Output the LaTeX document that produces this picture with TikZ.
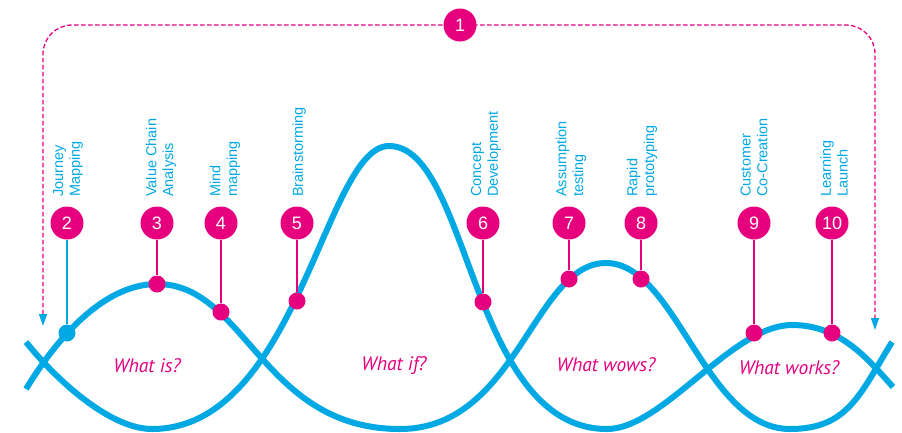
\documentclass[tikz,border=0pt]{standalone}
\usepackage{fontspec}
\setmainfont{Liberation Sans}
\newfontfamily\qfont{PT Sans}
\usetikzlibrary{arrows.meta}
\definecolor{cy}{RGB}{0,168,228}
\definecolor{mg}{RGB}{230,0,126}
\begin{document}
\begin{tikzpicture}[x=1pt,y=-1pt,
  wave/.style={cy, line width=6pt, line cap=butt, line join=round},
  num/.style={circle, fill=mg, minimum size=33pt, inner sep=0pt, text=white, font=\fontsize{18}{18}\selectfont},
  dotm/.style={circle, fill=mg, minimum size=17pt, inner sep=0pt},
  dotc/.style={circle, fill=cy, minimum size=17pt, inner sep=0pt},
  stemm/.style={mg, line width=1.3pt},
  stemc/.style={cy, line width=1.3pt},
  lab/.style={rotate=90, anchor=west, inner sep=0pt, align=left, text=cy, font=\fontsize{14.5}{16.7}\selectfont},
  qtext/.style={text=mg, font=\qfont\itshape\fontsize{19.5}{19.5}\selectfont},
  loopline/.style={mg, line width=1.3pt, dash pattern=on 4.5pt off 2.5pt}
]
\useasboundingbox (0,0) rectangle (902,432);

% curves
\draw[wave] (26,389) .. controls (69.5,318) and (115,284) .. (157,284)
 .. controls (246,284) and (262,429) .. (400,429)
 .. controls (517,429) and (534,263) .. (606,263)
 .. controls (676,263) and (705,429) .. (790,429)
 .. controls (848,429) and (860,394) .. (892,342);
\draw[wave] (26,342) .. controls (58,382) and (111,429) .. (152,429)
 .. controls (298,429) and (325,146) .. (389,146)
 .. controls (470,146) and (470,429) .. (607,429)
 .. controls (663,429) and (732,325) .. (792,325)
 .. controls (840,325) and (867.5,358.5) .. (893,387);

% top loop
\coordinate (c1) at (460,25);
\coordinate (la) at (43,326);
\coordinate (ra) at (875,330);
\draw[loopline, rounded corners=29pt, {Triangle[length=12pt,width=8pt,color=cy]}-{Triangle[length=12pt,width=8pt,color=cy]}] (la) |- (c1) -| (ra);
\node[num] (n1) at (c1) {1};

% pins
\node[num] (n2) at (67,223) {2};
\node[dotc] (d2) at (67,333) {};
\draw[stemc] (n2) -- (d2);
\node[num] (n3) at (157,223) {3};
\node[dotm] (d3) at (157,284) {};
\draw[stemm] (n3) -- (d3);
\node[num] (n4) at (221,223) {4};
\node[dotm] (d4) at (221,312) {};
\draw[stemm] (n4) -- (d4);
\node[num] (n5) at (297,223) {5};
\node[dotm] (d5) at (297,301) {};
\draw[stemm] (n5) -- (d5);
\node[num] (n6) at (483,223) {6};
\node[dotm] (d6) at (483,302) {};
\draw[stemm] (n6) -- (d6);
\node[num] (n7) at (569,223) {7};
\node[dotm] (d7) at (569,279) {};
\draw[stemm] (n7) -- (d7);
\node[num] (n8) at (641,223) {8};
\node[dotm] (d8) at (641,279) {};
\draw[stemm] (n8) -- (d8);
\node[num] (n9) at (754,223) {9};
\node[dotm] (d9) at (754,333) {};
\draw[stemm] (n9) -- (d9);
\node[num] (n10) at (832,223) {10};
\node[dotm] (d10) at (832,333) {};
\draw[stemm] (n10) -- (d10);

% labels
\node[lab] (l2) at (68,197) {Journey\\Mapping};
\node[lab] (l3) at (161,197) {Value Chain\\Analysis};
\node[lab] (l4) at (225,197) {Mind\\mapping};
\node[lab] (l5) at (299,197) {Brainstorming};
\node[lab] (l6) at (486,197) {Concept\\Development};
\node[lab] (l7) at (571,197) {Assumption\\testing};
\node[lab] (l8) at (642,197) {Rapid\\prototyping};
\node[lab] (l9) at (754,197) {Customer\\Co-Creation};
\node[lab] (l10) at (834,197) {Learning\\Launch};

% phase texts
\node[qtext] (w1) at (147,366) {What is?};
\node[qtext] (w2) at (394,366) {What if?};
\node[qtext] (w3) at (606,365) {What wows?};
\node[qtext] (w4) at (789,368) {What works?};
\end{tikzpicture}
\end{document}
